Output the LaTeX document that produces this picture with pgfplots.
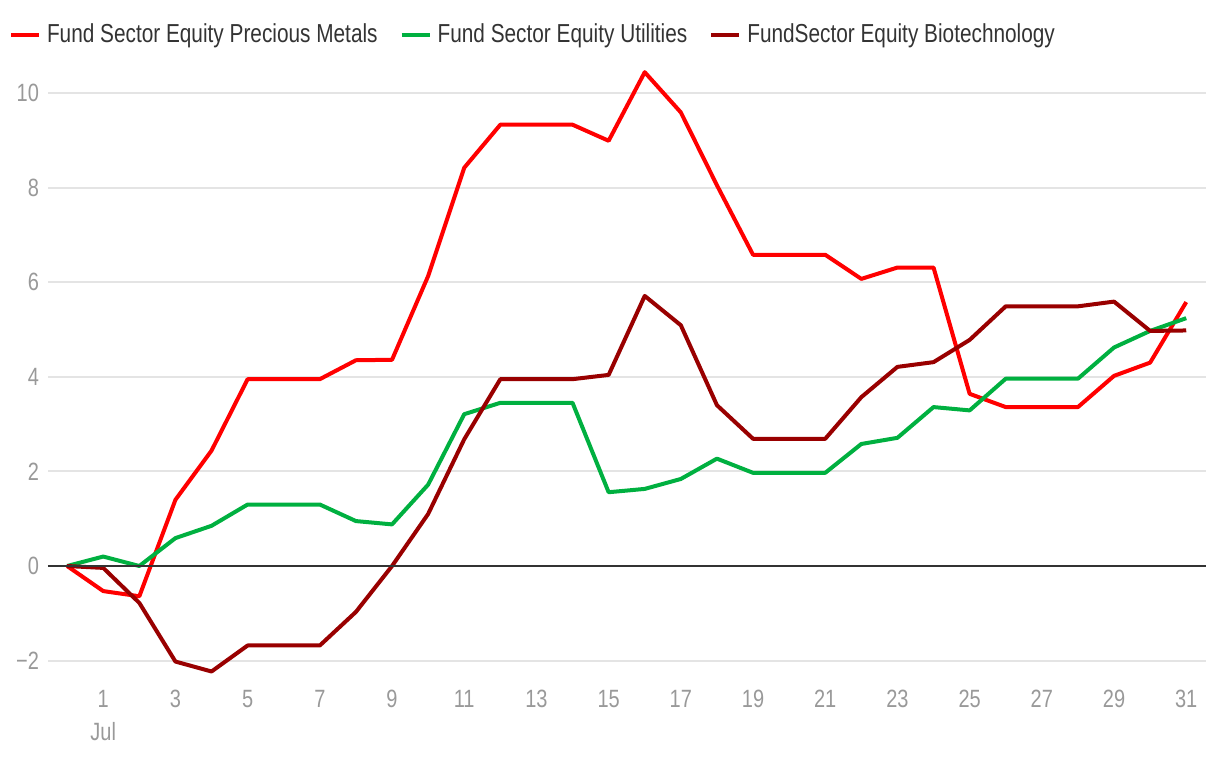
\documentclass[border=0pt]{standalone}
\usepackage{fontspec}
\setmainfont{Liberation Sans}[FakeStretch=0.8]
\usepackage{pgfplots}
\pgfplotsset{compat=1.18}
\usepackage{pgfplotstable}
\definecolor{cRed}{RGB}{255,0,0}
\definecolor{cGreen}{RGB}{0,176,64}
\definecolor{cDark}{RGB}{153,0,0}
\definecolor{tickgray}{RGB}{153,153,153}
\definecolor{legtext}{RGB}{51,51,51}
\definecolor{gridgray}{RGB}{228,228,228}

\pgfplotstableread{
d metals util bio
0 0 0 0
1 -0.53 0.20 -0.04
2 -0.64 0.00 -0.78
3 1.40 0.59 -2.02
4 2.44 0.85 -2.23
5 3.95 1.30 -1.68
6 3.95 1.30 -1.68
7 3.95 1.30 -1.68
8 4.35 0.95 -0.97
9 4.36 0.88 0.00
10 6.13 1.72 1.10
11 8.42 3.21 2.68
12 9.33 3.45 3.95
13 9.33 3.45 3.95
14 9.33 3.45 3.95
15 8.99 1.56 4.04
16 10.44 1.63 5.71
17 9.59 1.84 5.09
18 8.05 2.27 3.40
19 6.58 1.97 2.69
20 6.58 1.97 2.69
21 6.58 1.97 2.69
22 6.07 2.58 3.57
23 6.31 2.71 4.21
24 6.31 3.36 4.31
25 3.64 3.29 4.78
26 3.36 3.96 5.49
27 3.36 3.96 5.49
28 3.36 3.96 5.49
29 4.02 4.62 5.59
30 4.30 4.97 4.97
31 5.58 5.24 4.98
}\datatable

\begin{document}
\begin{tikzpicture}
\useasboundingbox (-24pt,-34.5pt) rectangle (586pt,344.5pt);
\begin{axis}[
  at={(0pt,0pt)}, anchor=south west,
  x=18.05pt, y=23.65pt,
  xmin=-0.53, xmax=31.55,
  ymin=-2.6, ymax=10.6,
  clip=false,
  axis line style={draw=none},
  tick style={draw=none},
  ymajorgrids=true,
  grid style={gridgray, line width=1pt},
  ytick={-2,0,2,4,6,8,10},
  yticklabels={−2,0,2,4,6,8,10},
  xtick={1,3,...,31},
  xticklabels={1\\Jul,3,5,7,9,11,13,15,17,19,21,23,25,27,29,31},
  xticklabel style={align=center, font=\fontsize{12.5}{16.5}\selectfont, text=tickgray, yshift=3pt},
  yticklabel style={font=\fontsize{12.5}{15}\selectfont, text=tickgray, xshift=-1pt},
  legend columns=3,
  legend style={at={(-19.5pt,334.5pt)}, anchor=north west, draw=none, fill=none,
     font=\fontsize{13}{15}\selectfont, text=legtext,
     /tikz/every even column/.append style={column sep=9pt},
     /tikz/every odd column/.append style={column sep=1pt},
     inner sep=0pt, outer sep=0pt},
  legend cell align=left,
  legend image code/.code={\draw[#1, line width=2pt] (0pt,0pt) -- (14pt,0pt);},
  every axis plot/.append style={line width=2pt, line join=round},
]
\addplot[cRed, no markers] table[x=d, y=metals] {\datatable};
\addlegendentry{Fund Sector Equity Precious Metals}
\addplot[cGreen, no markers] table[x=d, y=util] {\datatable};
\addlegendentry{Fund Sector Equity Utilities}
\addplot[cDark, no markers] table[x=d, y=bio] {\datatable};
\addlegendentry{FundSector Equity Biotechnology}
\draw[black!80, line width=0.8pt] (axis cs:-0.53,0) -- (axis cs:31.55,0);
\end{axis}
\end{tikzpicture}
\end{document}
